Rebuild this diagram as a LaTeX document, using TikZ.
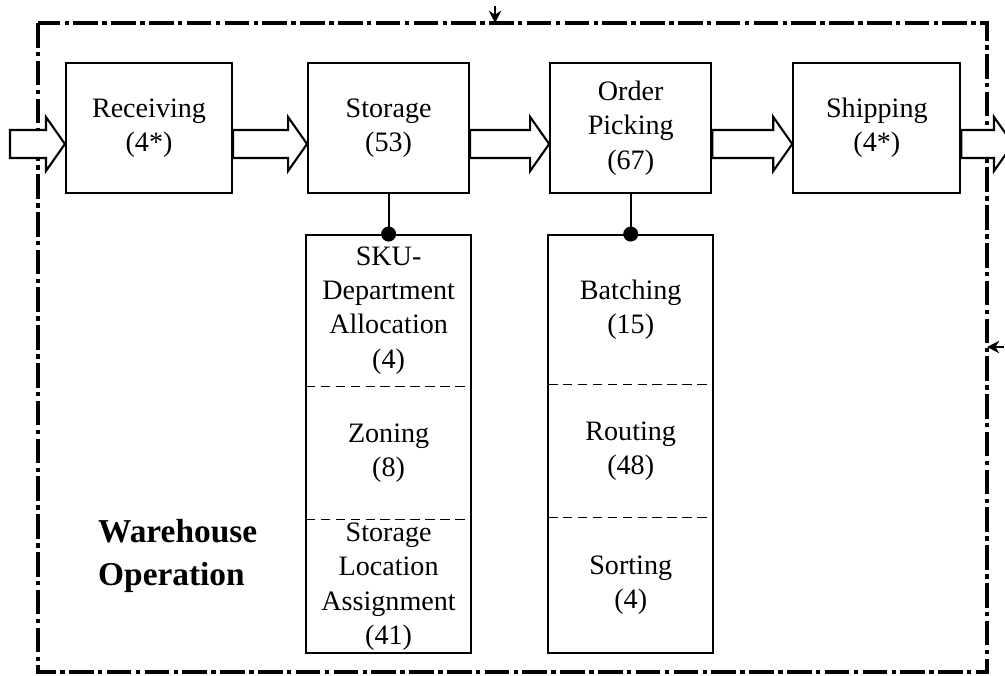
\documentclass[tikz,border=0pt]{standalone}
\usepackage{fontspec}
\setmainfont{Liberation Serif}
\usetikzlibrary{positioning,calc,arrows.meta}
\tikzset{
	node distance=1.6cm, % gap between the stage boxes
	stage/.style={draw, line width=1.2pt, minimum width=3.22cm, minimum height=2.6cm, align=center, font=\fontsize{16}{19.5}\selectfont},
	column/.style={draw, line width=1.2pt, minimum width=3.3cm, minimum height=8.36cm},
	part/.style={minimum width=3.3cm, inner sep=0pt, align=center, font=\fontsize{16}{19.5}\selectfont},
	divider/.style={line width=0.8pt, dash pattern=on 5.5pt off 3pt},
	frame/.style={line width=2.2pt, dash pattern=on 14pt off 2.5pt on 2.5pt off 2.5pt},
	fatarrow/.style={draw, line width=1.2pt, fill=white},
	dot/.style={circle, fill, inner sep=0pt, minimum size=0.3cm},
	marker/.style={line width=1.4pt, -{Stealth[length=7pt,width=7pt]}},
}
% hollow block arrow from #1 to #2
\newcommand{\hollowarrow}[2]{%
	\draw[fatarrow] let \p1=(#1), \p2=(#2) in
	(\x1,\y1+0.28cm) -- (\x2-0.38cm,\y1+0.28cm) -- (\x2-0.38cm,\y1+0.54cm) -- (\x2,\y1)
	-- (\x2-0.38cm,\y1-0.54cm) -- (\x2-0.38cm,\y1-0.28cm) -- (\x1,\y1-0.28cm) -- cycle;}

\begin{document}
\begin{tikzpicture}
	\useasboundingbox (0,0) rectangle (20.1,-13.52);
	% outer frame
	\draw[frame] (0.76,-0.46) rectangle (19.74,-13.44);
	\coordinate (topin) at (9.9,-0.12);
	\coordinate (topon) at (9.9,-0.46);
	\coordinate (sidein) at (20.08,-6.94);
	\coordinate (sideon) at (19.74,-6.94);
	\draw[marker] (topin) -- (topon);
	\draw[marker] (sidein) -- (sideon);

	%Nodes
	\node[stage, minimum width=3.32cm] (receiving) at (2.98,-2.56) {Receiving\\(4*)};
	\node[stage] (storage) [right=1.48cm of receiving] {Storage\\(53)};
	\node[stage] (picking) [right=1.58cm of storage] {Order\\Picking\\(67)};
	\node[stage, minimum width=3.34cm] (shipping) [right=1.6cm of picking] {Shipping\\(4*)};

	\node[column, below=0.8cm of storage] (scol) {};
	\node[part, minimum height=3.04cm, below=0pt of scol.north] (sku) {SKU-\\Department\\Allocation\\(4)};
	\node[part, minimum height=2.64cm, below=0pt of sku] (zone) {Zoning\\(8)};
	\node[part, minimum height=2.68cm, below=0pt of zone] (slot) {Storage\\Location\\Assignment\\(41)};

	\node[column, below=0.8cm of picking] (pcol) {};
	\node[part, minimum height=3.0cm, below=0pt of pcol.north] (batch) {Batching\\(15)};
	\node[part, minimum height=2.64cm, below=0pt of batch] (route) {Routing\\(48)};
	\node[part, minimum height=2.7cm, below=0pt of route] (sort) {Sorting\\(4)};

	\node[anchor=west, align=left, font=\bfseries\fontsize{19}{24.5}\selectfont] (whop) at (1.84,-11.12) {Warehouse\\Operation};

	%Lines
	\draw[divider] (sku.south west) -- (sku.south east);
	\draw[divider] (zone.south west) -- (zone.south east);
	\draw[divider] (batch.south west) -- (batch.south east);
	\draw[divider] (route.south west) -- (route.south east);
	\draw[line width=1.2pt] (storage.south) -- (scol.north) node[dot] {};
	\draw[line width=1.2pt] (picking.south) -- (pcol.north) node[dot] {};

	\coordinate (inlet) at (0.2,-2.88);
	\coordinate (outlet) at (20.26,-2.88);
	\hollowarrow{inlet}{[yshift=-0.32cm]receiving.west}
	\hollowarrow{[yshift=-0.32cm]receiving.east}{[yshift=-0.32cm]storage.west}
	\hollowarrow{[yshift=-0.32cm]storage.east}{[yshift=-0.32cm]picking.west}
	\hollowarrow{[yshift=-0.32cm]picking.east}{[yshift=-0.32cm]shipping.west}
	\hollowarrow{[yshift=-0.32cm]shipping.east}{outlet}
\end{tikzpicture}
\end{document}
